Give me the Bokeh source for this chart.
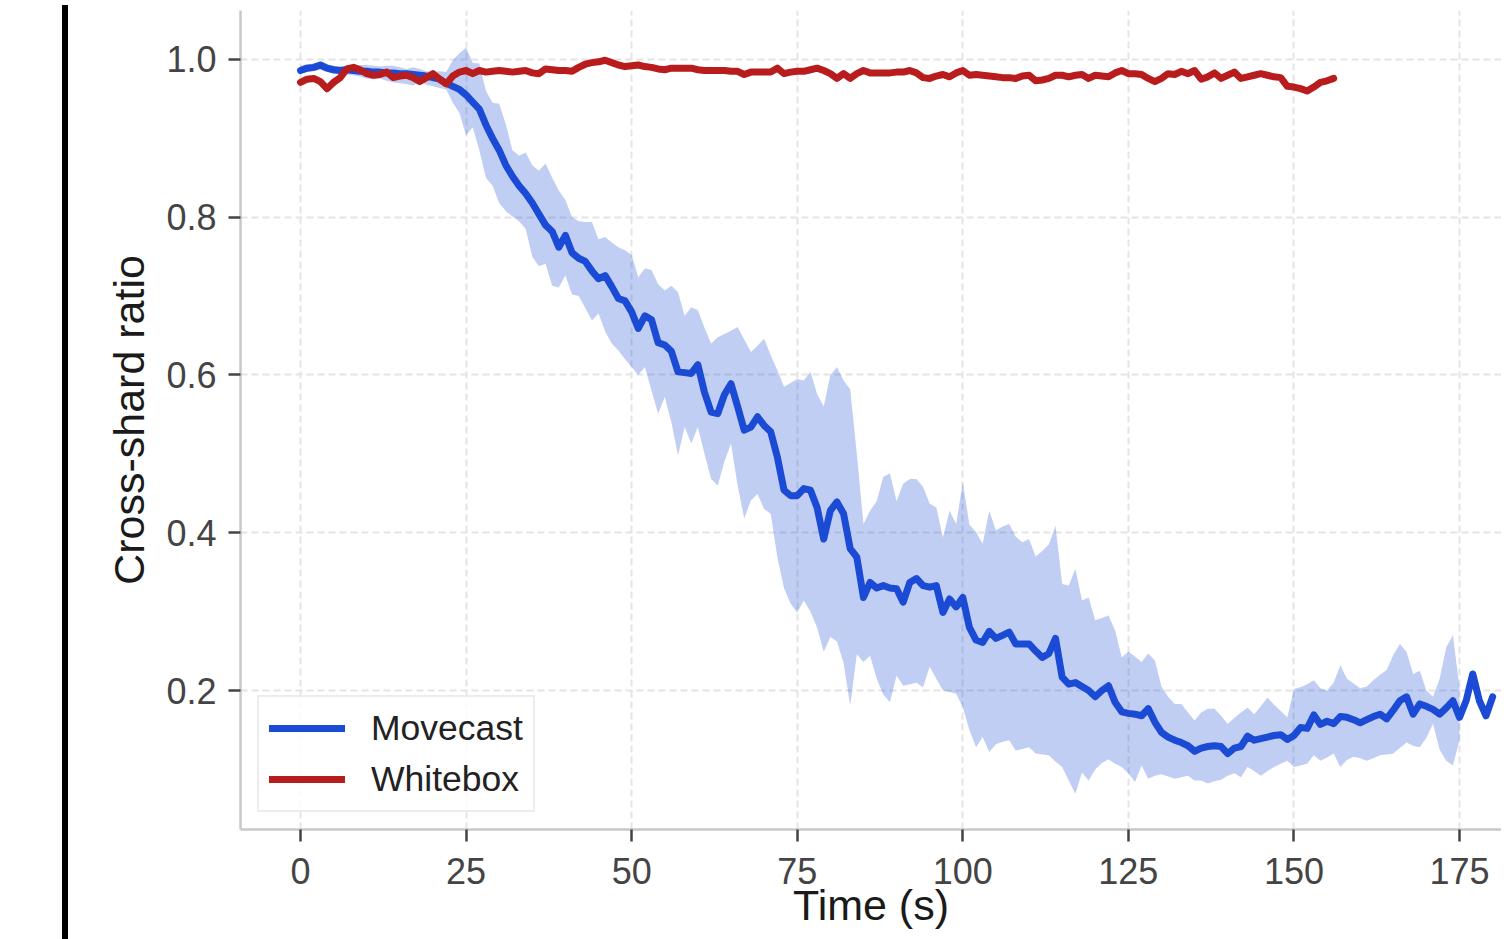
from bokeh.plotting import figure
from bokeh.models import (FixedTicker, NumeralTickFormatter, Range1d, Legend,
                          LegendItem, Div, Spacer)
from bokeh.layouts import row
from bokeh.embed import file_html
from bokeh.resources import INLINE

# ---------------- data ----------------
time_movecast = list(range(0, 181))
movecast_mean = [
    0.986, 0.989, 0.990, 0.993, 0.989, 0.987, 0.986, 0.987, 0.986, 0.985,
    0.985, 0.984, 0.984, 0.983, 0.983, 0.982, 0.982, 0.981, 0.980, 0.979,
    0.977, 0.975, 0.970, 0.966, 0.962, 0.955, 0.946, 0.937, 0.917, 0.900,
    0.885, 0.866, 0.852, 0.840, 0.830, 0.818, 0.804, 0.790, 0.782, 0.762,
    0.777, 0.755, 0.748, 0.744, 0.732, 0.722, 0.726, 0.712, 0.697, 0.694,
    0.680, 0.659, 0.675, 0.670, 0.641, 0.638, 0.630, 0.604, 0.603, 0.602,
    0.613, 0.578, 0.553, 0.551, 0.575, 0.589, 0.560, 0.530, 0.534, 0.547,
    0.536, 0.528, 0.496, 0.454, 0.447, 0.447, 0.456, 0.454, 0.432, 0.392,
    0.428, 0.439, 0.424, 0.380, 0.369, 0.318, 0.337, 0.330, 0.333, 0.330,
    0.329, 0.312, 0.337, 0.342, 0.333, 0.331, 0.333, 0.299, 0.316, 0.306,
    0.318, 0.280, 0.264, 0.261, 0.275, 0.266, 0.270, 0.274, 0.259, 0.259,
    0.259, 0.250, 0.242, 0.247, 0.266, 0.217, 0.208, 0.210, 0.205, 0.200,
    0.192, 0.200, 0.206, 0.185, 0.173, 0.171, 0.170, 0.168, 0.177, 0.160,
    0.147, 0.141, 0.137, 0.134, 0.130, 0.123, 0.127, 0.129, 0.130, 0.129,
    0.120, 0.127, 0.129, 0.142, 0.137, 0.139, 0.141, 0.143, 0.144, 0.138,
    0.143, 0.153, 0.152, 0.169, 0.157, 0.161, 0.158, 0.167, 0.166, 0.163,
    0.159, 0.163, 0.167, 0.170, 0.164, 0.175, 0.187, 0.192, 0.170, 0.183,
    0.180, 0.176, 0.170, 0.178, 0.187, 0.166, 0.187, 0.221, 0.187, 0.168,
    0.192,
]

time_band = list(range(0, 176))
movecast_upper = [
    0.992, 0.994, 0.995, 0.997, 0.994, 0.992, 0.991, 0.992, 0.992, 0.993,
    0.993, 0.992, 0.991, 0.992, 0.992, 0.990, 0.988, 0.990, 0.988, 0.985,
    0.984, 0.985, 0.984, 0.999, 1.008, 1.015, 0.996, 0.995, 0.960, 0.945,
    0.944, 0.918, 0.885, 0.878, 0.882, 0.866, 0.859, 0.868, 0.850, 0.834,
    0.822, 0.800, 0.795, 0.794, 0.794, 0.772, 0.775, 0.768, 0.762, 0.758,
    0.752, 0.724, 0.735, 0.733, 0.715, 0.707, 0.713, 0.705, 0.675, 0.686,
    0.682, 0.660, 0.640, 0.648, 0.652, 0.656, 0.661, 0.645, 0.629, 0.637,
    0.646, 0.625, 0.606, 0.585, 0.590, 0.595, 0.593, 0.604, 0.576, 0.560,
    0.600, 0.610, 0.593, 0.582, 0.500, 0.411, 0.428, 0.440, 0.471, 0.475,
    0.440, 0.462, 0.468, 0.468, 0.458, 0.437, 0.432, 0.394, 0.428, 0.411,
    0.464, 0.410, 0.401, 0.386, 0.428, 0.403, 0.408, 0.411, 0.395, 0.388,
    0.392, 0.370, 0.377, 0.385, 0.409, 0.335, 0.333, 0.354, 0.314, 0.318,
    0.289, 0.292, 0.295, 0.276, 0.242, 0.249, 0.243, 0.236, 0.247, 0.238,
    0.205, 0.192, 0.183, 0.183, 0.172, 0.162, 0.172, 0.177, 0.177, 0.168,
    0.158, 0.165, 0.172, 0.178, 0.170, 0.180, 0.191, 0.182, 0.174, 0.166,
    0.202, 0.204, 0.208, 0.213, 0.203, 0.200, 0.210, 0.232, 0.215, 0.209,
    0.203, 0.205, 0.213, 0.220, 0.226, 0.245, 0.259, 0.249, 0.221, 0.225,
    0.200, 0.192, 0.215, 0.255, 0.270, 0.204,
]
movecast_lower = [
    0.982, 0.984, 0.985, 0.987, 0.984, 0.982, 0.981, 0.981, 0.980, 0.978,
    0.976, 0.975, 0.976, 0.973, 0.971, 0.970, 0.969, 0.967, 0.972, 0.968,
    0.966, 0.964, 0.962, 0.945, 0.932, 0.904, 0.914, 0.885, 0.850, 0.840,
    0.818, 0.808, 0.801, 0.795, 0.785, 0.750, 0.738, 0.741, 0.713, 0.711,
    0.726, 0.702, 0.700, 0.685, 0.669, 0.678, 0.655, 0.640, 0.631, 0.620,
    0.610, 0.600, 0.610, 0.580, 0.551, 0.572, 0.540, 0.498, 0.534, 0.513,
    0.534, 0.500, 0.468, 0.460, 0.490, 0.513, 0.460, 0.418, 0.441, 0.449,
    0.430, 0.424, 0.369, 0.330, 0.310, 0.299, 0.314, 0.300, 0.280, 0.249,
    0.268, 0.262, 0.235, 0.181, 0.246, 0.236, 0.244, 0.215, 0.195, 0.185,
    0.219, 0.206, 0.208, 0.210, 0.204, 0.230, 0.215, 0.200, 0.198, 0.196,
    0.179, 0.150, 0.128, 0.141, 0.122, 0.132, 0.135, 0.137, 0.124, 0.126,
    0.128, 0.120, 0.119, 0.118, 0.110, 0.103, 0.086, 0.069, 0.096, 0.086,
    0.100, 0.108, 0.113, 0.107, 0.103, 0.095, 0.084, 0.105, 0.088, 0.092,
    0.094, 0.091, 0.088, 0.090, 0.092, 0.086, 0.086, 0.082, 0.085, 0.087,
    0.092, 0.095, 0.090, 0.103, 0.098, 0.092, 0.098, 0.103, 0.107, 0.111,
    0.103, 0.105, 0.107, 0.118, 0.111, 0.115, 0.120, 0.103, 0.112, 0.116,
    0.114, 0.111, 0.114, 0.118, 0.119, 0.120, 0.127, 0.134, 0.130, 0.128,
    0.140, 0.158, 0.125, 0.111, 0.105, 0.137,
]

time_whitebox = list(range(0, 157))
whitebox_mean = [
    0.971, 0.975, 0.976, 0.972, 0.963, 0.971, 0.977, 0.988, 0.990, 0.987,
    0.982, 0.980, 0.981, 0.984, 0.977, 0.979, 0.980, 0.977, 0.972, 0.977,
    0.982, 0.975, 0.969, 0.979, 0.984, 0.986, 0.982, 0.986, 0.984, 0.985,
    0.986, 0.985, 0.984, 0.985, 0.986, 0.983, 0.982, 0.988, 0.987, 0.986,
    0.986, 0.985, 0.990, 0.994, 0.996, 0.997, 0.999, 0.996, 0.993, 0.991,
    0.992, 0.993, 0.991, 0.990, 0.988, 0.987, 0.989, 0.989, 0.989, 0.989,
    0.987, 0.986, 0.986, 0.986, 0.986, 0.985, 0.985, 0.981, 0.984, 0.984,
    0.984, 0.984, 0.989, 0.982, 0.984, 0.985, 0.985, 0.987, 0.989, 0.986,
    0.982, 0.976, 0.982, 0.976, 0.982, 0.986, 0.983, 0.983, 0.983, 0.983,
    0.984, 0.984, 0.986, 0.983, 0.977, 0.976, 0.979, 0.981, 0.978, 0.983,
    0.986, 0.980, 0.981, 0.980, 0.979, 0.978, 0.977, 0.977, 0.976, 0.979,
    0.980, 0.973, 0.974, 0.976, 0.980, 0.980, 0.978, 0.980, 0.981, 0.976,
    0.980, 0.979, 0.978, 0.983, 0.986, 0.982, 0.982, 0.981, 0.976, 0.972,
    0.976, 0.982, 0.981, 0.985, 0.982, 0.986, 0.975, 0.978, 0.983, 0.976,
    0.980, 0.984, 0.976, 0.978, 0.980, 0.982, 0.980, 0.978, 0.977, 0.966,
    0.965, 0.963, 0.960, 0.965, 0.971, 0.973, 0.976,
]

x_ticks = [0, 25, 50, 75, 100, 125, 150, 175]
y_ticks = [0.2, 0.4, 0.6, 0.8, 1.0]
series_labels = ["Movecast", "Whitebox"]
x_title = "Time (s)"
y_title = "Cross-shard ratio"

# ---------------- styling ----------------
BLUE = "#1b4bd5"
RED = "#b81c1c"
FONT = "Liberation Sans"
H = 939

p = figure(width=1428, height=H,
           x_range=Range1d(-9.06, 181.34), y_range=Range1d(0.0238, 1.0621),
           output_backend="svg", toolbar_location=None,
           min_border_left=167, min_border_right=0,
           min_border_top=10, min_border_bottom=H - 829)
p.outline_line_color = None
p.background_fill_color = "white"
p.border_fill_color = "white"

band = p.varea(x=time_band, y1=movecast_lower, y2=movecast_upper,
               fill_color=BLUE, fill_alpha=0.27)
blue = p.line(time_movecast, movecast_mean, line_color=BLUE, line_width=7,
              line_join="round", line_cap="round")
red = p.line(time_whitebox, whitebox_mean, line_color=RED, line_width=7,
             line_join="round", line_cap="round")

p.xaxis.ticker = FixedTicker(ticks=x_ticks)
p.yaxis.ticker = FixedTicker(ticks=y_ticks)
p.yaxis.formatter = NumeralTickFormatter(format="0.0")

for ax in (p.xaxis, p.yaxis):
    ax.axis_line_color = "#c8c8c8"
    ax.axis_line_width = 2.5
    ax.major_tick_line_color = "#444444"
    ax.major_tick_line_width = 2.5
    ax.major_tick_in = 0
    ax.major_tick_out = 12
    ax.minor_tick_line_color = None
    ax.major_label_text_font = FONT
    ax.major_label_text_font_size = "36px"
    ax.major_label_text_color = "#444444"
    ax.axis_label_text_font = FONT
    ax.axis_label_text_font_size = "43px"
    ax.axis_label_text_font_style = "normal"
    ax.axis_label_text_color = "#1a1a1a"

p.xaxis.axis_label = x_title
p.yaxis.axis_label = y_title
p.xaxis.major_label_standoff = 16
p.xaxis.axis_label_standoff = -6
p.yaxis.major_label_standoff = 12
p.yaxis.axis_label_standoff = 10

for g in (p.xgrid, p.ygrid):
    g.grid_line_color = "#e4e4e4"
    g.grid_line_width = 2
    g.grid_line_dash = "7 4"

legend = Legend(items=[LegendItem(label=series_labels[0], renderers=[blue]),
                       LegendItem(label=series_labels[1], renderers=[red])],
                location="bottom_left", margin=17, padding=10, spacing=9,
                glyph_width=76, glyph_height=42, label_standoff=26,
                label_text_font=FONT, label_text_font_size="35.5px",
                label_text_color="#222222",
                border_line_color="#d9d9d9", border_line_width=2,
                background_fill_color="white", background_fill_alpha=0.85)
p.add_layout(legend)

bar = Div(text="", width=6, height=H,
          styles={"background-color": "#000000"})
layout = row(Spacer(width=57, height=H), bar, p)

open("out.html", "w").write(file_html(layout, INLINE))
